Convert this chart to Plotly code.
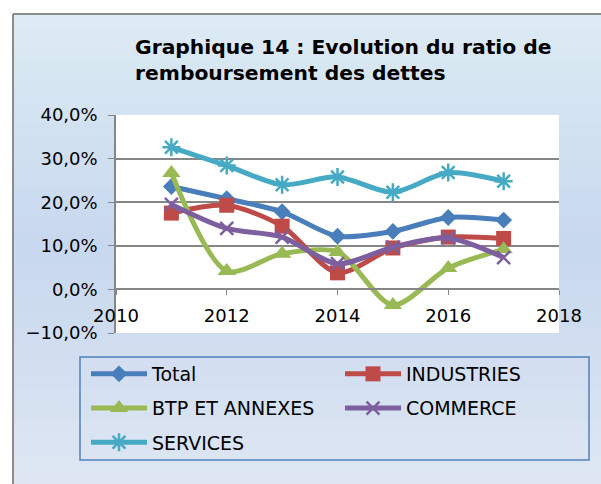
import plotly.graph_objects as go

years = [2011, 2012, 2013, 2014, 2015, 2016, 2017]
total = [0.236, 0.208, 0.178, 0.122, 0.133, 0.165, 0.159]
industries = [0.175, 0.193, 0.145, 0.038, 0.095, 0.120, 0.117]
btp = [0.267, 0.042, 0.082, 0.086, -0.036, 0.049, 0.092]
commerce = [0.195, 0.140, 0.120, 0.059, 0.097, 0.118, 0.073]
services = [0.326, 0.284, 0.240, 0.258, 0.223, 0.268, 0.248]

series = [
    ("Total", total, "#4a7ebb", "diamond", 13, "legend"),
    ("INDUSTRIES", industries, "#be4b48", "square", 15, "legend2"),
    ("BTP ET ANNEXES", btp, "#98b954", "triangle-up", 16, "legend"),
    ("COMMERCE", commerce, "#7d5fa0", "x-thin-open", 13, "legend2"),
    ("SERVICES", services, "#46aac5", "asterisk-open", 15, "legend"),
]

W, H = 601, 484
L, R, T, B = 116, 42, 115, 151
FONT = "DejaVu Sans, Liberation Sans, Arial, sans-serif"

fig = go.Figure()
for name, vals, col, sym, sz, lg in series:
    mk = dict(symbol=sym, size=sz, color=col)
    if sym.endswith("open"):
        mk["line"] = dict(color=col, width=2.5)
    fig.add_trace(go.Scatter(
        x=years, y=vals, name=name, mode="lines+markers",
        line=dict(color=col, width=5, shape="spline", smoothing=0.8),
        marker=mk, legend=lg, legendgroup=name,
    ))


def px_x(x):
    return (x - L) / (W - L - R)


def px_y(y):
    return (H - y - B) / (H - T - B)


# background gradient bands
shapes = []
n = 30
top = (220, 235, 244)
mid = (200, 216, 239)
bot = (222, 230, 243)
for i in range(n):
    t = i / (n - 1)
    if t < 0.5:
        a, b_, u = top, mid, t / 0.5
    else:
        a, b_, u = mid, bot, (t - 0.5) / 0.5
    c = tuple(int(a[k] + (b_[k] - a[k]) * u) for k in range(3))
    ya = 14 + (H - 14) * i / n
    yb = 14 + (H - 14) * (i + 1) / n
    shapes.append(dict(type="rect", xref="paper", yref="paper",
                       x0=px_x(13), x1=px_x(W + 5),
                       y0=px_y(yb) - 0.002, y1=px_y(ya) + 0.002,
                       fillcolor="rgb(%d,%d,%d)" % c, line=dict(width=0), layer="below"))

# outer border
shapes.append(dict(type="line", xref="paper", yref="paper", x0=px_x(13), x1=px_x(13),
                   y0=px_y(14), y1=px_y(H + 5), line=dict(color="#8c8c8c", width=2), layer="below"))
shapes.append(dict(type="line", xref="paper", yref="paper", x0=px_x(13), x1=px_x(W + 5),
                   y0=px_y(14), y1=px_y(14), line=dict(color="#8c8c8c", width=2), layer="below"))
# plot area white
shapes.append(dict(type="rect", xref="paper", yref="paper", x0=0, x1=1, y0=0, y1=1,
                   fillcolor="white", line=dict(width=0), layer="below"))
# legend box
shapes.append(dict(type="rect", xref="paper", yref="paper", x0=px_x(80), x1=px_x(589),
                   y0=px_y(460), y1=px_y(357), line=dict(color="#4f81bd", width=1.5),
                   fillcolor="rgba(0,0,0,0)"))

legend_common = dict(orientation="v", xref="container", yref="container",
                     xanchor="left", yanchor="top",
                     bgcolor="rgba(0,0,0,0)", font=dict(size=19, family=FONT, color="#000000"),
                     itemwidth=56, tracegroupgap=6.5)

fig.update_layout(
    width=W, height=H,
    margin=dict(l=L, r=R, t=T, b=B, autoexpand=False),
    paper_bgcolor="rgba(0,0,0,0)",
    plot_bgcolor="rgba(0,0,0,0)",
    separators=", ",
    font=dict(family=FONT, size=18, color="#000000"),
    title=dict(text="<b>Graphique 14 : Evolution du ratio de<br>remboursement des dettes</b>",
               x=135 / W, xanchor="left", xref="container",
               y=1 - 54 / H, yanchor="top", yref="container",
               font=dict(size=20.3, color="#000000", family=FONT)),
    showlegend=True,
    legend=dict(x=86 / W, y=1 - 355 / H, **legend_common),
    legend2=dict(x=340 / W, y=1 - 355 / H, **legend_common),
    shapes=shapes,
)

fig.update_xaxes(range=[2010, 2018], dtick=2, tick0=2010,
                 anchor="free", position=0.2,
                 showgrid=False, zeroline=False,
                 showline=True, linecolor="#868686", linewidth=1.5,
                 ticks="outside", ticklen=5, tickcolor="#868686",
                 ticklabelstandoff=5,
                 tickfont=dict(size=18))
fig.update_yaxes(range=[-0.1, 0.4], dtick=0.1, tickformat=".1%",
                 showgrid=True, gridcolor="#868686", gridwidth=1.5,
                 zeroline=False, showline=True, linecolor="#868686", linewidth=1.5,
                 ticks="outside", ticklen=6, tickcolor="#868686",
                 ticklabelstandoff=7,
                 tickfont=dict(size=18))

fig.write_html("out.html", config={"displayModeBar": False},
               post_script="document.body.style.margin='0';")
